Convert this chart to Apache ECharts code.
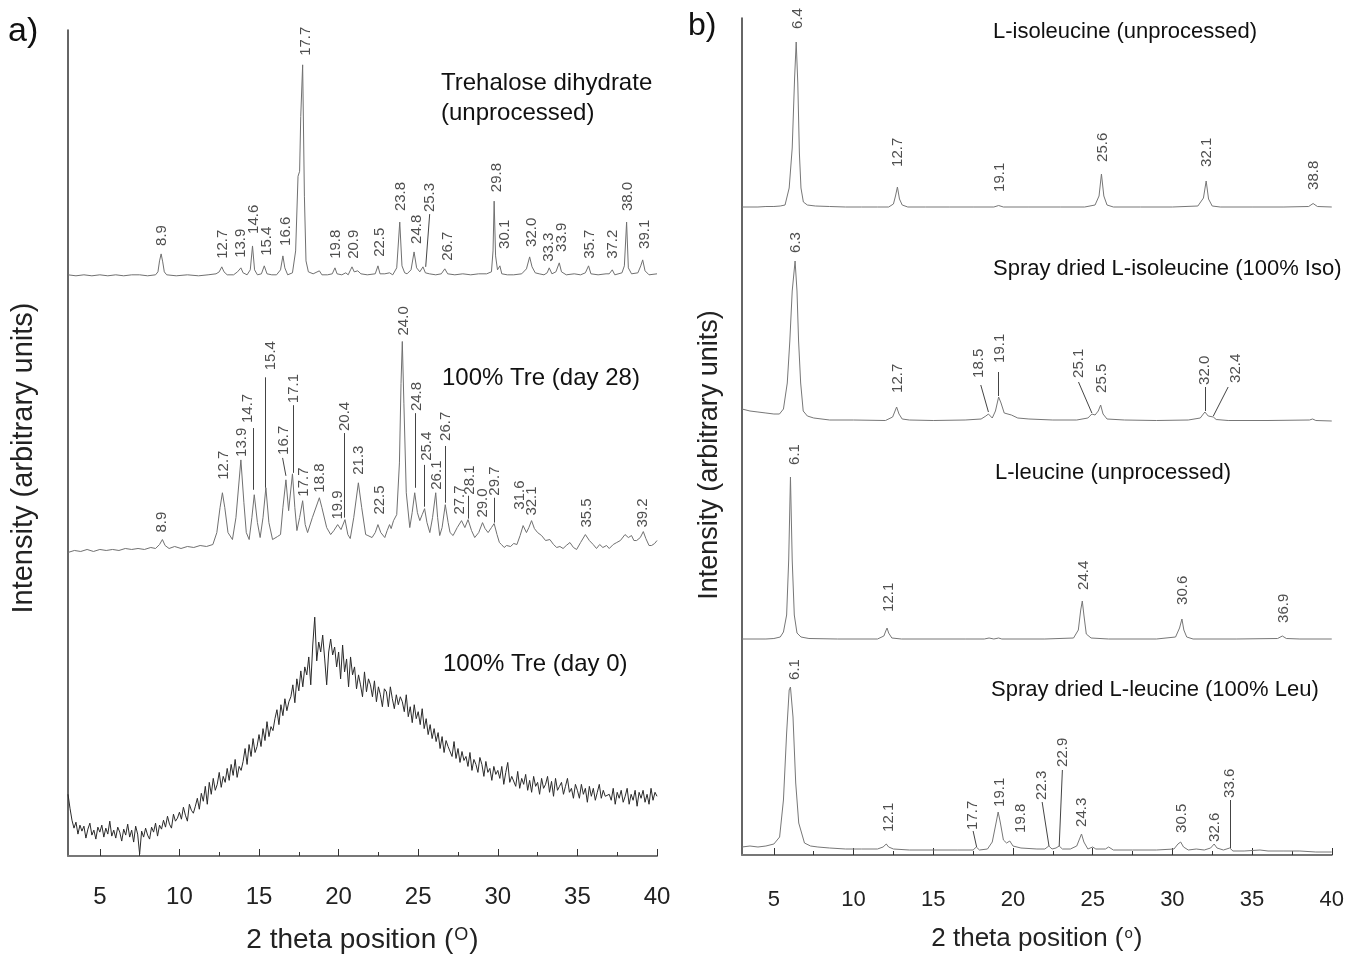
<!DOCTYPE html>
<html>
<head>
<meta charset="utf-8">
<title>XRD patterns</title>
<script src="https://cdn.jsdelivr.net/npm/echarts@6.0.0/dist/echarts.min.js"></script>
<style>
  html, body { margin: 0; padding: 0; background: #fff; }
  #chart { width: 1347px; height: 959px; }
</style>
</head>
<body>
<div id="chart"></div>
<script>
// ---- axis ticks ----
const xTicks = [5, 10, 15, 20, 25, 30, 35, 40];
const xMinorTicks = [7.5, 12.5, 17.5, 22.5, 27.5, 32.5, 37.5];

// ---- panel a: trehalose, [2theta, intensity a.u.] ----
const trehDihydrate = [
  [3.0,1],[3.5,0],[4.0,1],[4.5,0],[5.0,1],[5.5,0],[6.0,1],[6.5,0],[7.0,1],[7.5,1],[8.0,0],[8.5,1],
  [8.65,4],[8.75,15],[8.85,22],[8.95,14],[9.05,4],[9.2,1],[9.8,0],[10.5,1],[11.2,0],[11.8,1],[12.3,2],
  [12.5,4],[12.66,9],[12.8,4],[13.0,1],[13.4,1],[13.65,4],[13.86,8],[14.0,3],[14.25,1],[14.45,6],
  [14.59,30],[14.72,6],[14.9,1],[15.15,2],[15.33,10],[15.5,2],[15.8,1],[16.1,1],[16.35,6],[16.5,20],
  [16.62,8],[16.8,1],[17.1,3],[17.3,25],[17.45,100],[17.55,105],[17.62,160],[17.74,212],[17.85,80],
  [17.95,15],[18.1,4],[18.4,2],[18.79,5],[18.95,1],[19.3,1],[19.6,2],[19.77,8],[19.9,2],[20.2,1],
  [20.45,3],[20.6,1],[20.75,6],[20.84,9],[20.98,4],[21.2,5],[21.4,2],[21.8,1],[22.3,2],[22.47,10],
  [22.6,2],[22.9,2],[23.2,3],[23.4,1],[23.65,8],[23.84,54],[23.98,10],[24.15,3],[24.3,2],[24.55,6],
  [24.74,24],[24.9,8],[25.1,4],[25.3,9],[25.45,3],[25.7,2],[26.1,1],[26.45,2],[26.67,7],[26.85,2],
  [27.3,1],[27.8,2],[28.3,1],[28.8,2],[29.3,2],[29.6,4],[29.7,25],[29.77,75],[29.86,20],[29.98,6],
  [30.13,10],[30.25,2],[30.6,1],[31.0,1],[31.5,2],[31.8,7],[32.0,19],[32.15,9],[32.35,3],[32.6,2],
  [32.9,1],[33.1,3],[33.23,8],[33.4,2],[33.65,4],[33.86,13],[34.0,4],[34.3,1],[34.8,2],[35.2,1],
  [35.5,3],[35.7,10],[35.85,2],[36.3,1],[36.8,2],[37.0,2],[37.19,6],[37.35,1],[37.8,3],[37.95,10],
  [38.09,54],[38.2,8],[38.4,2],[38.8,3],[38.98,10],[39.1,16],[39.25,5],[39.5,1],[40.0,2]
];
const trehDay28 = [
  [3.0,0],[3.4,2],[3.8,1],[4.2,3],[4.6,1],[5.0,3],[5.4,2],[5.8,3],[6.2,2],[6.6,4],[7.0,3],[7.4,4],
  [7.8,3],[8.2,5],[8.5,4],[8.75,8],[8.93,13],[9.1,7],[9.35,4],[9.7,6],[10.1,4],[10.5,6],[10.9,5],
  [11.3,7],[11.7,6],[12.1,8],[12.35,20],[12.55,45],[12.7,60],[12.85,45],[13.05,20],[13.33,13],
  [13.55,35],[13.86,93],[14.05,50],[14.2,20],[14.38,13],[14.55,35],[14.7,58],[14.9,30],[15.07,15],
  [15.25,35],[15.43,65],[15.62,30],[15.85,13],[16.16,16],[16.35,18],[16.5,45],[16.69,73],[16.86,42],
  [17.1,79],[17.25,45],[17.38,22],[17.55,35],[17.74,52],[17.9,28],[18.05,20],[18.35,35],[18.79,55],
  [18.95,45],[19.06,47],[19.25,25],[19.5,18],[19.7,22],[19.94,28],[20.15,23],[20.4,33],[20.58,18],
  [20.73,14],[20.95,35],[21.24,70],[21.45,45],[21.7,18],[21.84,17],[22.1,15],[22.3,20],[22.47,28],
  [22.65,20],[22.9,15],[23.05,22],[23.2,28],[23.3,24],[23.45,32],[23.65,38],[23.82,90],[23.92,170],
  [24.0,212],[24.1,150],[24.25,60],[24.47,25],[24.62,40],[24.78,60],[24.95,40],[25.1,32],[25.25,38],
  [25.4,44],[25.55,30],[25.73,20],[25.9,35],[26.1,60],[26.22,35],[26.35,17],[26.5,25],[26.7,48],
  [26.88,30],[27.0,20],[27.19,17],[27.45,25],[27.72,32],[27.93,25],[28.13,33],[28.35,22],[28.55,15],
  [28.8,20],[29.04,30],[29.2,24],[29.39,20],[29.6,25],[29.77,29],[29.95,18],[30.1,10],[30.23,8],
  [30.4,5],[30.55,7],[30.8,6],[31.0,9],[31.2,8],[31.4,17],[31.59,27],[31.8,20],[31.95,25],[32.12,32],
  [32.3,24],[32.5,20],[32.75,17],[33.0,12],[33.27,13],[33.5,8],[33.7,5],[33.9,6],[34.1,4],[34.3,7],
  [34.53,10],[34.75,5],[34.95,3],[35.2,10],[35.5,18],[35.75,12],[35.99,8],[36.2,4],[36.4,8],[36.6,5],
  [36.83,7],[37.0,4],[37.25,8],[37.47,10],[37.7,12],[37.99,18],[38.2,15],[38.4,17],[38.55,12],
  [38.72,12],[38.95,15],[39.14,21],[39.3,14],[39.5,7],[39.66,7],[39.85,9],[40.0,12]
];
// day 0 scan: start 3 deg, step 0.125 deg (one row per degree)
const day0Start = 3;
const day0Step = 0.125;
const trehDay0 = [
  62,48,36,28,34,22,31,25,
  30,18,27,33,21,26,17,29,
  24,31,19,28,22,35,20,26,
  18,29,24,15,27,21,32,19,
  26,14,30,22,2,25,19,28,
  21,17,29,24,33,20,31,27,
  36,29,40,32,28,42,35,38,
  44,37,49,41,35,52,46,43,
  50,58,47,63,55,70,52,74,
  62,78,66,72,84,69,80,74,
  88,76,92,81,97,79,90,86,
  95,108,92,112,100,118,104,110,
  122,110,128,116,135,120,130,126,
  138,147,132,152,141,158,146,155,
  160,172,154,178,166,186,170,190,
  182,200,172,212,240,196,215,205,
  222,198,172,205,218,202,210,190,
  205,178,212,185,198,170,200,182,
  190,168,182,172,160,185,165,178,
  172,160,176,155,170,162,150,168,
  165,150,170,158,148,162,152,160,
  155,145,162,140,150,134,152,138,
  145,132,148,128,138,122,132,118,
  128,115,124,108,120,104,116,110,
  112,100,115,98,108,94,105,96,
  100,90,104,86,97,92,84,99,
  92,80,95,84,88,76,90,82,
  86,78,90,72,84,94,74,80,
  80,70,85,68,78,72,82,66,
  76,64,80,70,74,62,78,68,
  72,80,64,75,60,78,66,70,
  74,62,70,78,64,68,58,72,
  66,58,72,62,68,54,70,60,
  68,56,64,72,58,66,60,62,
  62,56,68,52,64,58,66,54,
  60,68,52,62,56,66,50,64,
  58,66,54,62,52,68,56,64,
  60
];

// peak labels: [text, 2theta, height] (+ optional leader x1, y1, x2, y2)
const dihydrateLabels = [
  ['8.9',8.93,30],['12.7',12.7,17],['13.9',13.86,18],['14.6',14.7,42],['15.4',15.47,20],
  ['16.6',16.69,30],['17.7',17.94,221],['19.8',19.83,17],['20.9',20.94,17],['22.5',22.58,19],
  ['23.8',23.94,65],['24.8',24.89,32],['25.3',25.72,64,25.72,62,25.47,9],['26.7',26.88,15],
  ['29.8',29.92,84],['30.1',30.44,27],['32.0',32.12,29],['33.3',33.23,14],['33.9',34.0,24],
  ['35.7',35.79,17],['37.2',37.25,17],['38.0',38.2,65],['39.1',39.25,27]
];
const day28Labels = [
  ['8.9',8.93,20],['12.7',12.77,73],['13.9',13.9,96],['14.7',14.28,130,14.63,125,14.63,63],
  ['15.4',15.74,183,15.39,176,15.39,65],['16.7',16.54,98,16.48,95,16.69,77],
  ['17.1',17.21,150,17.17,148,17.17,80],['17.7',17.84,56],['18.8',18.85,60],['19.9',19.94,33],
  ['20.4',20.4,122,20.36,120,20.36,35],['21.3',21.26,78],['22.5',22.58,38],['24.0',24.09,218],
  ['24.8',24.89,142,24.84,140,24.84,65],['25.4',25.52,92,25.41,88,25.41,46],['26.1',26.18,63],
  ['26.7',26.77,112,26.71,107,26.71,50],['27.7',27.61,38],['28.1',28.24,58,28.13,57,28.13,34],
  ['29.0',29.08,35],['29.7',29.81,57,29.77,55,29.77,30],['31.6',31.38,43],['32.1',32.12,37],
  ['35.5',35.58,25],['39.2',39.14,25]
];

// ---- panel b: leucine / isoleucine ----
const ileRaw = [
  [3.0,1],[3.5,1],[4.0,1],[4.5,1.5],[5.0,1.5],[5.4,2],[5.7,3],[5.96,20],[6.15,60],[6.3,130],[6.4,166],
  [6.5,125],[6.6,55],[6.7,20],[6.85,6],[7.1,3],[7.6,2],[8.5,1.5],[9.5,1],[10.5,1],[11.5,1],[12.2,1],
  [12.5,4],[12.63,12],[12.75,21],[12.88,9],[13.05,3],[13.4,1],[14.5,1],[16,1],[17.5,1],[18.8,1],
  [19.1,2.5],[19.4,1],[21,1],[23,1],[24.5,1],[25.15,3],[25.4,12],[25.55,34],[25.7,12],[25.9,3],
  [26.3,1],[28,1],[30,1],[31.6,2],[31.95,10],[32.12,27],[32.27,9],[32.5,2],[33,1],[35,1],[37,1],
  [38.55,1.5],[38.83,4.5],[39.1,1.5],[40,1]
];
const ileSprayDried = [
  [3.0,12],[3.5,10],[4.0,9],[4.5,8],[5.0,7],[5.35,7],[5.6,12],[5.84,38],[6.0,80],[6.15,130],
  [6.33,160],[6.45,130],[6.55,80],[6.68,38],[6.84,10],[7.1,5],[7.5,3],[8.5,1],[10,1],[12.0,0.5],
  [12.45,4],[12.6,10],[12.7,14],[12.85,7],[13.05,2],[13.5,1],[15,0.5],[17,1],[18.0,2],[18.3,5],
  [18.46,7],[18.7,3],[18.9,10],[19.1,24],[19.25,18],[19.45,8],[19.9,6],[20.3,3],[21,2],[22.5,1],
  [24,1],[24.7,3],[24.95,7],[25.15,6],[25.35,10],[25.5,16],[25.65,7],[25.9,2],[27,1],[29,0.5],
  [31,1],[31.75,3],[32.04,9],[32.25,5],[32.57,4],[32.75,1.5],[33.5,0.5],[36,0.5],[38.6,1],
  [38.8,2],[39,0.5],[40,0]
];
const leuRaw = [
  [3.0,1],[4.5,1],[5.0,1.5],[5.4,3],[5.6,8],[5.8,25],[5.93,80],[6.04,163],[6.15,80],[6.28,25],
  [6.45,7],[6.7,3],[7.2,1.5],[9,1],[11.5,1],[11.9,4],[12.02,9],[12.1,12],[12.2,7],[12.4,2],[13,1],
  [17,1],[18.2,1],[18.5,2],[18.8,1],[19.1,2],[19.3,1],[22,1],[23.8,2],[24.1,10],[24.25,30],
  [24.35,39],[24.45,25],[24.6,6],[24.9,2],[26,1],[29,1],[30.2,3],[30.45,12],[30.6,21],[30.72,10],
  [30.9,3],[31.3,1],[34,1],[36.6,1.5],[36.9,4],[37.15,1.5],[38,1],[40,1]
];
const leuSprayDried = [
  [3.0,5],[3.5,6],[4.0,5],[4.5,6],[5.0,8],[5.36,15],[5.6,52],[5.8,119],[5.96,162],[6.04,165],
  [6.2,135],[6.37,69],[6.56,29],[6.92,9],[7.3,6],[7.76,5],[8.5,4],[9.5,3],[10.5,3],[11.5,3],
  [11.85,5],[12.05,8],[12.2,5],[12.5,3],[13.5,2],[15,2],[16.5,2],[17.5,2],[17.7,5],[17.9,2],
  [18.4,3],[18.7,10],[18.95,30],[19.07,40],[19.2,30],[19.4,12],[19.6,9],[19.8,11],[20.0,6],
  [20.5,4],[21.5,3],[22.0,3],[22.25,6],[22.45,3],[22.7,4],[22.9,6],[23.1,3],[23.6,3],[24.0,6],
  [24.2,14],[24.3,18],[24.45,10],[24.7,3],[25.0,5],[25.2,3],[25.8,3],[26.0,5],[26.3,2],[27.5,2],
  [29,2],[30.1,3],[30.35,8],[30.52,10],[30.7,5],[31.0,2],[31.5,3],[32.0,2],[32.4,4],[32.62,8],
  [32.8,4],[33.2,2],[33.6,4],[33.8,1],[34.5,1],[35.5,2],[36,1],[37,1],[38,1],[39,0],[40,0]
];
const ileRawLabels = [
  ['6.4',6.5,179],['12.7',12.8,41],['19.1',19.18,16],['25.6',25.67,46],['32.1',32.17,41],['38.8',38.9,18]
];
const ileSprayLabels = [
  ['6.3',6.4,168],['12.7',12.8,28],['18.5',17.87,43,17.98,36,18.46,9],['19.1',19.18,58,19.1,49,19.1,25],
  ['25.1',24.11,43,24.11,39,24.95,8],['25.5',25.55,28],['32.0',32.04,36,32.04,34,32.04,10],
  ['32.4',33.97,38,33.5,34,32.57,5]
];
const leuRawLabels = [
  ['6.1',6.33,175],['12.1',12.2,28],['24.4',24.43,50],['30.6',30.68,35],['36.9',36.97,17]
];
const leuSprayLabels = [
  ['6.1',6.33,172],['12.1',12.2,20],['17.7',17.5,22,17.5,21,17.72,5],['19.1',19.18,45],['19.8',20.5,19],
  ['22.3',21.83,52,21.83,50,22.26,6],['22.9',23.16,85,23.1,82,22.9,6],['24.3',24.35,25],
  ['30.5',30.6,19],['32.6',32.64,10],['33.6',33.6,54,33.6,52,33.6,4]
];

// vertical stacking offsets (a.u.)
const offsetA = { dihydrate: 583, day28: 305, day0: 0 };
const offsetB = { ileRaw: 647, ileSD: 434, leuRaw: 215, leuSD: 3 };

const FONT = '"Liberation Sans", Arial, sans-serif';
const series = [];

function addPattern(panel, data, offset, labels, color) {
  const xAxisIndex = panel * 2;
  const yAxisIndex = panel;
  series.push({
    type: 'line', xAxisIndex, yAxisIndex, silent: true,
    showSymbol: false, symbol: 'none',
    data: data.map(d => [d[0], d[1] + offset]),
    lineStyle: { color: color, width: 1 },
    z: 2
  });
  if (!labels) return;
  series.push({
    type: 'scatter', xAxisIndex, yAxisIndex, silent: true, symbolSize: 0.1,
    data: labels.map(l => ({ name: l[0], value: [l[1], l[2] + offset] })),
    label: {
      show: true, formatter: '{b}', position: [0, 0], rotate: 90,
      align: 'left', verticalAlign: 'middle',
      fontSize: 15, fontFamily: FONT, color: '#222'
    },
    z: 3
  });
  series.push({
    type: 'lines', coordinateSystem: 'cartesian2d', xAxisIndex, yAxisIndex, silent: true,
    data: labels.filter(l => l.length > 3).map(l => ({
      coords: [[l[3], l[4] + offset], [l[5], l[6] + offset]]
    })),
    lineStyle: { color: '#444', width: 1, opacity: 1 },
    z: 3
  });
}

addPattern(0, trehDihydrate, offsetA.dihydrate, dihydrateLabels, '#707070');
addPattern(0, trehDay28, offsetA.day28, day28Labels, '#707070');
addPattern(0, trehDay0.map((v, i) => [day0Start + i * day0Step, v]), offsetA.day0, null, '#2a2a2a');
addPattern(1, ileRaw, offsetB.ileRaw, ileRawLabels, '#777');
addPattern(1, ileSprayDried, offsetB.ileSD, ileSprayLabels, '#777');
addPattern(1, leuRaw, offsetB.leuRaw, leuRawLabels, '#777');
addPattern(1, leuSprayDried, offsetB.leuSD, leuSprayLabels, '#777');

function majorX(gridIndex, labelSize, labelMargin, name, nameSize, supSize, nameGap) {
  return {
    gridIndex, type: 'value', min: 3, max: 40,
    axisLine: { show: true, onZero: false, lineStyle: { color: '#777', width: 2 } },
    axisTick: { show: true, inside: true, length: 7, customValues: xTicks, lineStyle: { color: '#333' } },
    axisLabel: { show: true, customValues: xTicks, margin: labelMargin, fontSize: labelSize, color: '#222', fontFamily: FONT },
    splitLine: { show: false },
    name: name, nameLocation: 'middle', nameGap: nameGap,
    nameTextStyle: {
      fontSize: nameSize, color: '#222', fontFamily: FONT,
      rich: { s: { fontSize: supSize, color: '#222', fontFamily: FONT, verticalAlign: 'top', padding: [0, 1, 0, 1] } }
    }
  };
}
function minorX(gridIndex) {
  return {
    gridIndex, type: 'value', min: 3, max: 40, position: 'bottom',
    axisLine: { show: false },
    axisTick: { show: true, inside: true, length: 4, customValues: xMinorTicks, lineStyle: { color: '#333' } },
    axisLabel: { show: false }, splitLine: { show: false }
  };
}
function plainY(gridIndex, max) {
  return {
    gridIndex, type: 'value', min: 0, max: max,
    axisLine: { show: true, lineStyle: { color: '#333', width: 1.5 } },
    axisTick: { show: false }, axisLabel: { show: false }, splitLine: { show: false }
  };
}

const chart = echarts.init(document.getElementById('chart'));
chart.setOption({
  animation: false,
  backgroundColor: '#fff',
  grid: [
    { left: 68, right: 690, top: 30, bottom: 99 },
    { left: 742, right: 15, top: 18, bottom: 104 }
  ],
  xAxis: [
    majorX(0, 24, 29, '2 theta position ({s|O})', 28, 18, 70),
    minorX(0),
    majorX(1, 22, 34, '2 theta position ({s|o})', 26, 15, 71),
    minorX(1)
  ],
  yAxis: [plainY(0, 830), plainY(1, 837)],
  series: series,
  graphic: [
    { type: 'text', x: 8, y: 32, style: { text: 'a)', font: '34px ' + FONT, fill: '#111', verticalAlign: 'middle' } },
    { type: 'text', x: 688, y: 26, style: { text: 'b)', font: '32px ' + FONT, fill: '#111', verticalAlign: 'middle' } },
    { type: 'text', x: 24, y: 458, rotation: Math.PI / 2,
      style: { text: 'Intensity (arbitrary units)', font: '29px ' + FONT, fill: '#222', align: 'center', verticalAlign: 'middle' } },
    { type: 'text', x: 710, y: 455, rotation: Math.PI / 2,
      style: { text: 'Intensity (arbitrary units)', font: '27px ' + FONT, fill: '#222', align: 'center', verticalAlign: 'middle' } },
    { type: 'text', x: 441, y: 83, style: { text: 'Trehalose dihydrate', font: '24px ' + FONT, fill: '#111', verticalAlign: 'middle' } },
    { type: 'text', x: 441, y: 113, style: { text: '(unprocessed)', font: '24px ' + FONT, fill: '#111', verticalAlign: 'middle' } },
    { type: 'text', x: 442, y: 378, style: { text: '100% Tre (day 28)', font: '24px ' + FONT, fill: '#111', verticalAlign: 'middle' } },
    { type: 'text', x: 443, y: 664, style: { text: '100% Tre (day 0)', font: '24px ' + FONT, fill: '#111', verticalAlign: 'middle' } },
    { type: 'text', x: 993, y: 32, style: { text: 'L-isoleucine (unprocessed)', font: '22px ' + FONT, fill: '#111', verticalAlign: 'middle' } },
    { type: 'text', x: 993, y: 269, style: { text: 'Spray dried L-isoleucine (100% Iso)', font: '22px ' + FONT, fill: '#111', verticalAlign: 'middle' } },
    { type: 'text', x: 995, y: 473, style: { text: 'L-leucine (unprocessed)', font: '22px ' + FONT, fill: '#111', verticalAlign: 'middle' } },
    { type: 'text', x: 991, y: 690, style: { text: 'Spray dried L-leucine (100% Leu)', font: '22px ' + FONT, fill: '#111', verticalAlign: 'middle' } }
  ]
});
window.addEventListener('resize', chart.resize);
</script>
</body>
</html>
